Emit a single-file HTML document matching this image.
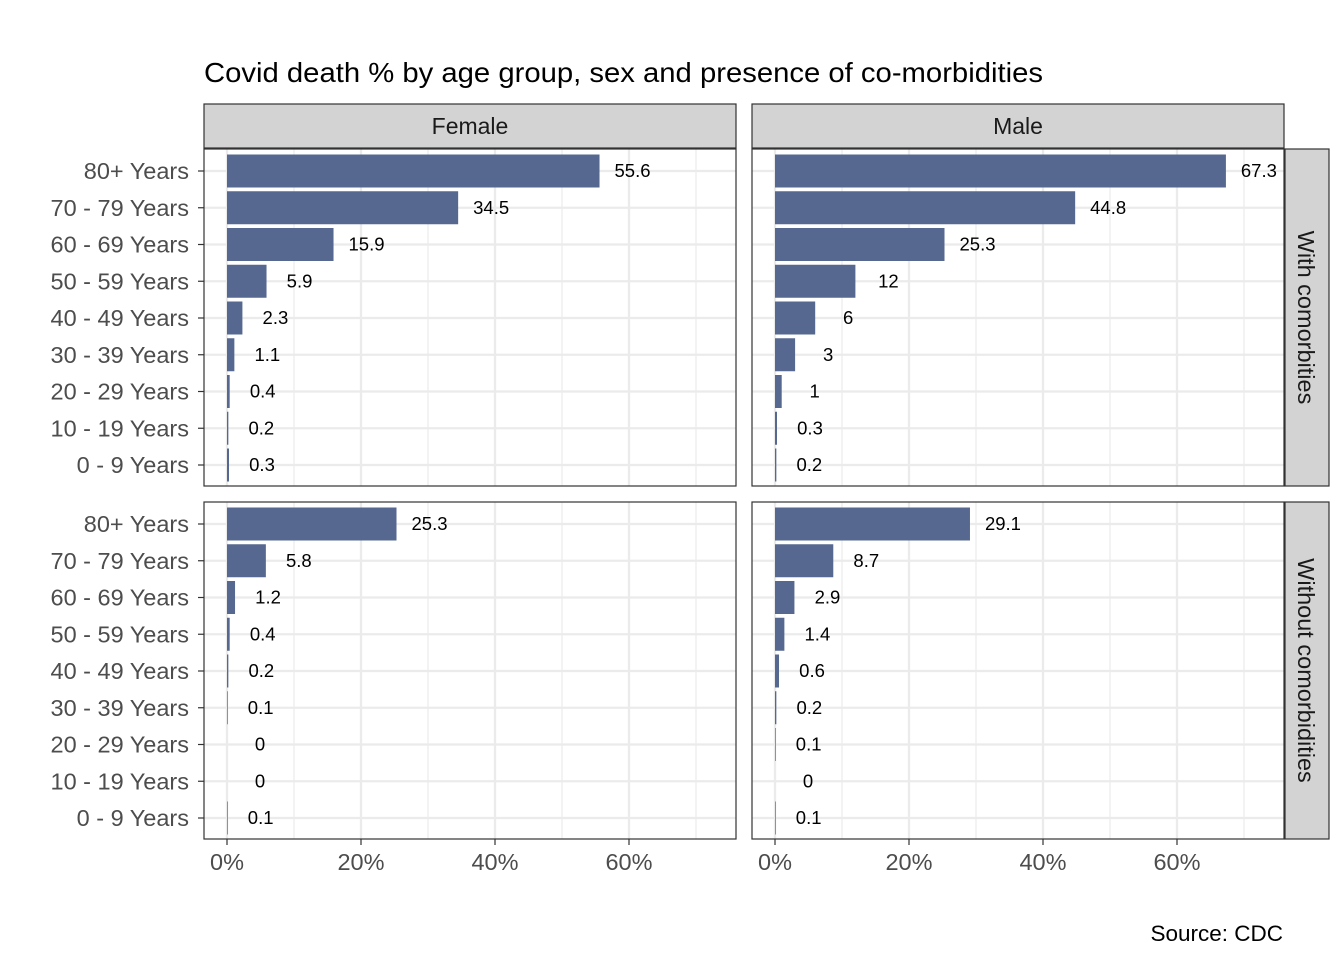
<!DOCTYPE html>
<html><head><meta charset="utf-8"><style>
body{margin:0;background:#fff;}
svg{display:block;font-family:"Liberation Sans",Arial,sans-serif;}
</style></head><body>
<svg id="c" width="1344" height="960"></svg>
<script>
const ages=["80+ Years","70 - 79 Years","60 - 69 Years","50 - 59 Years","40 - 49 Years","30 - 39 Years","20 - 29 Years","10 - 19 Years","0 - 9 Years"];
const femaleWith=[55.6,34.5,15.9,5.9,2.3,1.1,0.4,0.2,0.3];
const maleWith=[67.3,44.8,25.3,12,6,3,1,0.3,0.2];
const femaleWithout=[25.3,5.8,1.2,0.4,0.2,0.1,0,0,0.1];
const maleWithout=[29.1,8.7,2.9,1.4,0.6,0.2,0.1,0,0.1];
const xTicks=[0,20,40,60];
const xMinor=[10,30,50,70];
const cols=["Female","Male"];
const rows=["With comorbities","Without comorbidities"];

const NS="http://www.w3.org/2000/svg";
const svg=document.getElementById('c');
function mk(t,a,p){const e=document.createElementNS(NS,t);for(const k in a)e.setAttribute(k,a[k]);(p||svg).appendChild(e);return e;}
const panelX=[204,752], panelW=532, panelY=[149,502], panelH=337;
const zeroOff=23, pxPer=6.7;
function xs(c,v){return panelX[c]+zeroOff+v*pxPer;}
function ys(r,i){return panelY[r]+22+i*36.75;}

let t=mk('text',{x:204,y:82,'font-size':28,fill:'#000',textLength:839,lengthAdjust:'spacingAndGlyphs'});t.textContent="Covid death % by age group, sex and presence of co-morbidities";

t=mk('text',{x:1283,y:941,'font-size':22.5,fill:'#000','text-anchor':'end'});t.textContent="Source: CDC";


const data=[[femaleWith,maleWith],[femaleWithout,maleWithout]];
for(let c=0;c<2;c++){
  let s=mk('rect',{x:panelX[c],y:104,width:panelW,height:44,fill:'#d3d3d3',stroke:'#333','stroke-width':1.2});
  
  t=mk('text',{x:panelX[c]+panelW/2,y:134,'font-size':23,fill:'#1a1a1a','text-anchor':'middle'});t.textContent=cols[c];
  
}
for(let r=0;r<2;r++){
  let s=mk('rect',{x:1285,y:panelY[r],width:44,height:panelH,fill:'#d3d3d3',stroke:'#333','stroke-width':1.2});
  
  const cy=panelY[r]+panelH/2;
  t=mk('text',{x:1306,y:cy,'font-size':23.5,fill:'#1a1a1a','text-anchor':'middle','dominant-baseline':'central',transform:`rotate(90 1306 ${cy})`});t.textContent=rows[r];
  
}
for(let r=0;r<2;r++)for(let c=0;c<2;c++){
  const g=mk('g',{});
  mk('rect',{x:panelX[c],y:panelY[r],width:panelW,height:panelH,fill:'#fff'},g);
  xMinor.forEach(v=>mk('line',{x1:xs(c,v),x2:xs(c,v),y1:panelY[r],y2:panelY[r]+panelH,stroke:'#ebebeb','stroke-width':1.2},g));
  xTicks.forEach(v=>mk('line',{x1:xs(c,v),x2:xs(c,v),y1:panelY[r],y2:panelY[r]+panelH,stroke:'#ebebeb','stroke-width':2.3},g));
  ages.forEach((a,i)=>mk('line',{x1:panelX[c],x2:panelX[c]+panelW,y1:ys(r,i),y2:ys(r,i),stroke:'#ebebeb','stroke-width':2.3},g));
  data[r][c].forEach((v,i)=>{
    const b=mk('rect',{x:xs(c,0),y:ys(r,i)-16.5,width:Math.max(v*pxPer,0),height:33,fill:'#56688f'},g);
    
    const l=mk('text',{x:xs(c,v)+33,y:ys(r,i)+6,'font-size':18.5,fill:'#000','text-anchor':'middle'},g);l.textContent=String(v);
    
  });
  mk('rect',{x:panelX[c],y:panelY[r],width:panelW,height:panelH,fill:'none',stroke:'#333','stroke-width':1.2},g);
}
for(let r=0;r<2;r++)ages.forEach((a,i)=>{
  const y=ys(r,i);
  mk('line',{x1:198,x2:204,y1:y,y2:y,stroke:'#333','stroke-width':1.2});
  const l=mk('text',{x:189,y:y+8,'font-size':23.5,fill:'#4d4d4d','text-anchor':'end'});l.textContent=a;
  
});
for(let c=0;c<2;c++)xTicks.forEach(v=>{
  const x=xs(c,v);
  mk('line',{x1:x,x2:x,y1:839,y2:845,stroke:'#333','stroke-width':1.2});
  const l=mk('text',{x:x,y:870,'font-size':23.5,fill:'#4d4d4d','text-anchor':'middle'});l.textContent=v+'%';
  
});
</script>
</body></html>
